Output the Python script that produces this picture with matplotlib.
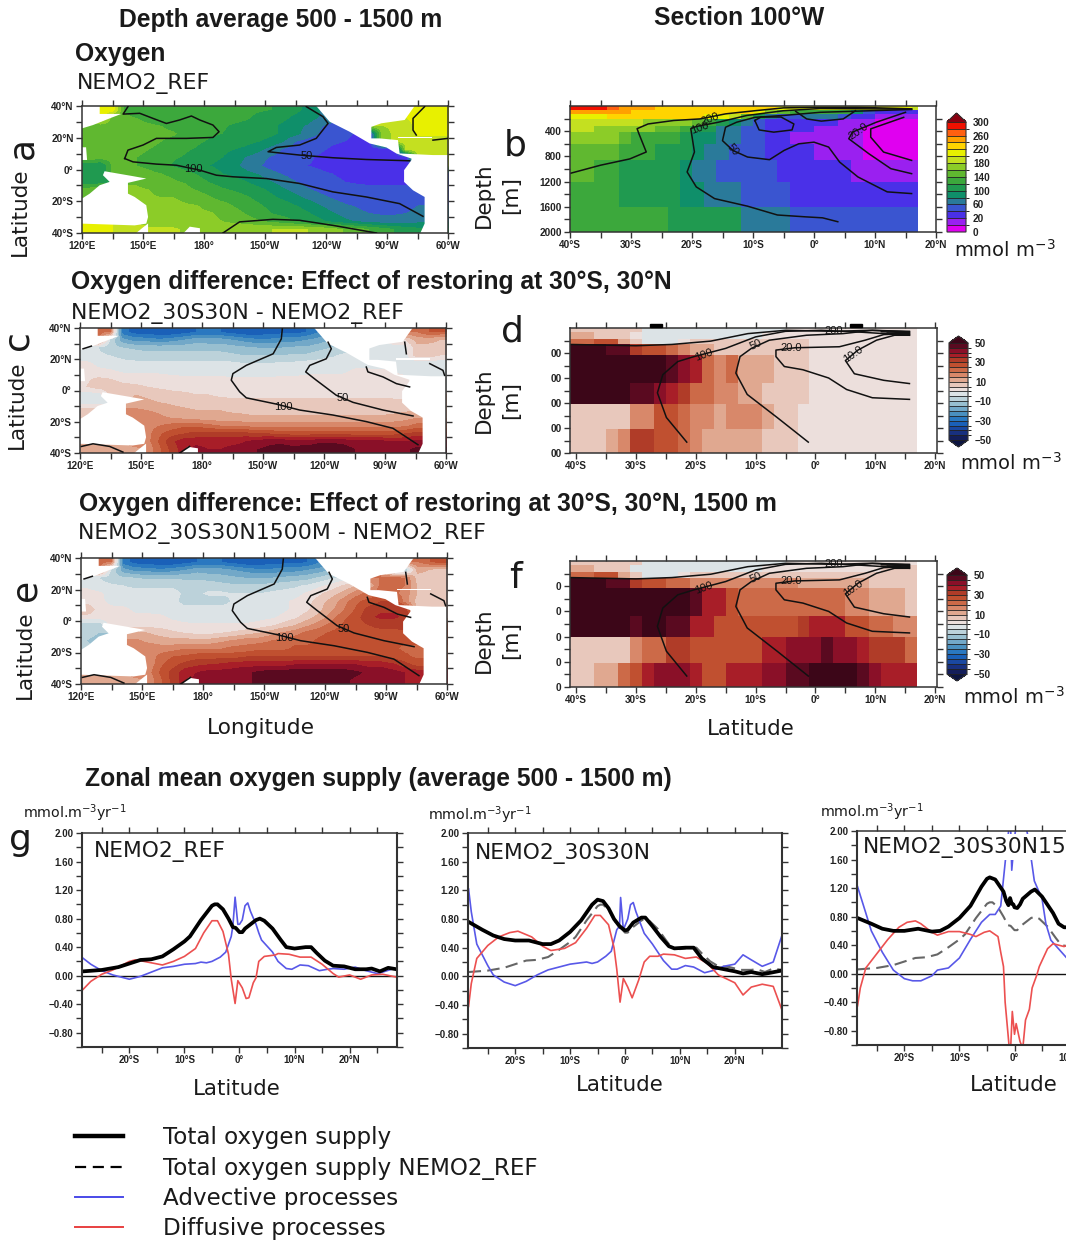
import numpy as np
import matplotlib
matplotlib.use("Agg")
import matplotlib.pyplot as plt
from matplotlib.colors import ListedColormap, BoundaryNorm
from matplotlib.cm import ScalarMappable
from matplotlib.lines import Line2D
from matplotlib.patches import Rectangle

W, H = 1066, 1243
N = np.nan
BOLD = "Liberation Sans"
REG = "DejaVu Sans"

# ---------- colour scales ----------
o2_levels = [0, 10, 20, 40, 60, 80, 100, 120, 140, 160, 180, 200, 220, 240, 260, 280, 300]
o2_colors = ["#e000f0", "#9a20f0", "#4a30e8", "#3a55d0", "#2a7a9a", "#0f8f6a", "#209a50", "#3ca83c",
             "#60b830", "#8ccc28", "#c4e020", "#e8f000", "#ffd400", "#ffa000", "#ff6010", "#f01000"]
o2_over = "#8a0010"
o2_ticks = [0, 20, 60, 100, 140, 180, 220, 260, 300]
diff_levels = list(range(-50, 55, 5))
diff_colors = ["#141e5a", "#18307f", "#1a48a0", "#1a60b8", "#2a78c0", "#4a90c0", "#72a8c8", "#98bfd0",
               "#bcd2da", "#dce3e6", "#ecdfdc", "#e8c8bc", "#e0a890", "#d8886a", "#cc6a48", "#c05030",
               "#b03c28", "#a81e28", "#8a1028", "#5a0a20"]
diff_under, diff_over = "#0c1440", "#3c0618"

# ---------- panel a: oxygen, 500-1500 m mean (6 deg x 5 deg cells, N to S) ----------
map_lon_edges = [120, 300]
map_lat_edges = [-40, 40]
oxygen_map = [
 [N,215,215,138,125,128,128,125,125,125,125,125,125,125,122,120,108,105,95,80,N,N,N,N,N,N,N,205,205,205],
 [N,N,150,145,140,130,125,125,125,125,125,125,125,122,115,112,105,95,88,78,68,N,N,N,N,N,200,205,205,205],
 [150,150,150,150,150,145,140,135,130,125,125,122,118,115,110,105,95,85,78,62,55,50,N,N,180,185,195,205,205,205],
 [145,150,150,150,150,150,145,142,135,128,122,120,115,115,110,105,95,85,72,58,50,45,38,N,165,185,190,205,205,205],
 [155,152,152,150,148,145,140,135,128,122,118,115,110,105,100,92,80,60,52,45,42,40,35,32,N,N,190,190,190,190],
 [155,150,150,148,145,140,135,128,122,118,112,105,100,95,85,72,58,50,45,42,38,35,32,30,25,N,190,190,190,190],
 [155,150,148,145,140,135,128,122,118,112,105,100,90,78,68,58,50,45,42,38,35,32,30,30,28,28,25,N,N,N],
 [105,100,145,145,140,135,125,118,112,105,100,95,85,72,62,52,45,42,40,38,35,35,32,32,32,32,32,N,N,N],
 [100,100,N,N,150,145,140,135,125,118,108,100,95,85,78,66,58,50,45,42,40,38,38,35,35,35,N,N,N,N],
 [105,110,N,N,158,152,148,142,138,128,118,112,108,100,90,80,70,60,52,46,42,40,38,38,38,38,38,N,N,N],
 [150,150,N,N,162,160,155,150,145,138,130,122,118,112,105,95,82,72,62,54,48,45,45,42,42,42,42,50,N,N],
 [150,N,N,N,162,162,160,160,155,150,142,132,128,122,115,105,95,85,75,66,58,52,48,45,45,48,50,55,N,N],
 [N,N,N,N,N,165,165,165,162,160,152,148,138,128,122,115,110,100,92,80,70,62,58,52,50,50,52,60,N,N],
 [N,N,N,N,N,172,172,170,168,165,162,155,148,138,128,120,115,110,102,92,82,72,65,60,58,58,60,68,N,N],
 [N,N,N,N,N,172,175,172,172,170,165,160,155,150,142,135,128,120,112,105,95,85,78,72,68,68,70,75,N,N],
 [215,205,200,195,195,182,182,182,178,178,172,172,175,178,178,180,182,182,180,175,168,158,150,140,130,120,110,105,N,N],
]

# ---------- panel c: NEMO2_30S30N - NEMO2_REF ----------
diff_map_30 = [
 [N,22,20,-28,-32,-33,-34,-34,-32,-30,-30,-30,-32,-34,-34,-32,-32,-32,-30,-25,N,N,N,N,N,N,N,20,25,25],
 [N,N,-6,-18,-22,-22,-24,-22,-20,-17,-18,-18,-20,-22,-24,-24,-22,-22,-20,-18,-15,N,N,N,N,N,5,12,12,10],
 [-3,-5,-8,-10,-11,-12,-12,-12,-12,-12,-12,-12,-13,-14,-15,-15,-15,-14,-14,-12,-10,-8,N,N,-3,-3,-3,8,8,8],
 [-2,-4,-5,-6,-7,-8,-8,-8,-8,-8,-8,-8,-9,-10,-10,-10,-10,-9,-9,-7,-6,-4,-3,N,-3,-3,N,8,8,5],
 [1,-1,-3,-4,-4,-4,-4,-4,-4,-4,-4,-4,-4,-5,-5,-5,-4,-4,-3,-3,-2,-2,-2,-2,N,N,-3,-3,-3,-3],
 [2,1,1,-1,-1,-1,-1,-2,-2,-2,-2,-2,-3,-3,-3,-3,-2,-2,-2,-1,-1,-1,1,1,1,N,N,-3,-3,-3],
 [4,6,5,4,3,3,2,2,1,1,1,1,1,1,1,1,1,1,2,2,2,2,2,2,3,3,3,N,N,N],
 [5,8,7,6,6,5,4,3,3,3,3,3,3,3,3,3,3,3,3,3,3,3,3,3,3,3,3,N,N,N],
 [-2,-2,N,N,10,9,8,7,6,5,5,4,4,4,4,4,4,4,4,4,4,4,4,4,4,4,N,N,N,N],
 [-2,-2,N,N,12,11,10,9,8,8,7,7,6,6,6,6,6,6,6,6,6,6,6,6,6,6,6,N,N,N],
 [8,8,N,N,16,15,14,12,11,10,10,10,9,9,8,8,8,8,8,8,8,8,8,8,8,8,9,10,N,N],
 [5,N,N,N,18,18,16,15,14,13,12,12,12,11,11,11,11,11,11,11,11,11,11,11,11,12,13,15,N,N],
 [N,N,N,N,N,18,20,22,24,24,22,20,20,19,18,18,18,18,18,18,18,18,18,18,18,18,19,22,N,N],
 [N,N,N,N,N,18,24,28,30,32,32,32,32,32,30,30,28,28,28,28,28,28,28,28,28,28,30,32,N,N],
 [N,N,N,N,N,18,26,34,38,38,38,38,38,40,42,44,44,42,42,44,44,44,42,42,42,40,40,42,N,N],
 [14,12,14,14,N,16,24,32,N,42,40,40,42,42,45,46,47,47,48,48,48,47,45,44,44,44,44,46,N,N],
]

# ---------- panel e: NEMO2_30S30N1500M - NEMO2_REF ----------
diff_map_1500 = [
 [N,22,20,-28,-32,-33,-34,-34,-32,-30,-30,-30,-32,-34,-34,-32,-32,-32,-30,-25,N,N,N,N,N,N,N,20,25,28],
 [N,N,-6,-18,-22,-22,-24,-22,-20,-17,-18,-18,-20,-22,-24,-24,-22,-22,-20,-18,-14,N,N,N,N,N,-10,12,10,8],
 [-2,-5,-8,-9,-10,-11,-11,-11,-11,-11,-12,-13,-14,-15,-15,-15,-14,-13,-12,-9,-6,-3,N,N,20,22,20,8,8,6],
 [-1,-3,-4,-5,-6,-6,-6,-6,-7,-7,-7,-8,-9,-9,-9,-8,-7,-6,-4,-1,2,6,10,N,22,22,N,10,8,6],
 [2,1,-2,-3,-3,-3,-3,-3,-6,-6,-4,-4,-5,-5,-5,-4,-3,-2,1,4,8,12,18,22,N,N,18,10,8,6],
 [3,1,-1,-2,-2,-2,-3,-3,-7,-7,-7,-7,-4,-3,-3,-2,-1,1,3,8,12,18,24,27,30,N,N,8,8,8],
 [10,2,1,1,-1,-1,-2,-2,-3,-3,-3,-3,-3,-3,-3,-2,-1,1,4,9,14,20,26,32,34,34,34,N,N,N],
 [3,3,3,2,1,1,1,-1,-2,-3,-3,-3,-3,-3,-2,-1,1,4,8,12,18,24,28,34,36,36,34,N,N,N],
 [-8,-8,N,N,2,3,3,2,1,1,1,1,1,1,2,4,7,10,14,18,22,26,28,30,32,32,N,N,N,N],
 [-8,-10,N,N,12,10,8,6,5,4,4,5,6,8,10,13,16,18,22,24,26,28,28,28,28,28,28,N,N,N],
 [-10,-12,N,N,16,14,13,12,12,12,12,14,16,18,18,20,22,24,24,26,26,26,26,26,26,26,26,26,N,N],
 [-8,N,N,N,18,18,17,18,20,20,20,20,22,22,24,24,24,26,26,26,26,26,26,26,26,26,24,24,N,N],
 [N,N,N,N,N,16,22,25,26,28,28,28,28,30,30,30,30,30,30,30,30,30,30,30,30,28,26,24,N,N],
 [N,N,N,N,N,16,24,28,32,34,35,36,38,38,38,38,38,40,40,40,40,40,40,38,38,36,32,28,N,N],
 [N,N,N,N,N,18,26,32,38,40,42,42,42,44,46,48,48,48,48,48,48,48,46,44,44,42,40,38,N,N],
 [14,12,14,14,N,16,24,32,N,42,42,42,44,44,46,46,48,48,48,48,48,46,44,44,42,42,40,38,N,N],
]

# ---------- land outlines (lon, lat) ----------
land_polygons = [
 ([120,128.7,128.7,139.3,133.6,125.4,120], [40,40,35,35,32.2,28,25.9]),
 ([120,122,122.5,120], [14,14,6,6]),
 ([131.1,145.1,151.6,142.6,142.6,145.9,151.6,152.5,151.6,145.9,120,120,123.8,128.7,133.6,130.3],
  [-1.1,-4.2,-5.7,-8.4,-15.2,-17.3,-22.5,-29.9,-34.1,-35.2,-34.1,-18.3,-15.2,-9.9,-7.8,-3.6]),
 ([146.7,149.2,152.5,152.5], [-40,-37.3,-34,-40]),
 ([170,173,178,178], [-40,-36,-37,-40]),
 ([235.2,241.8,251.6,261.5,269.7,274.6,282,282,278.4,278.4,282.8,288.5,288.5,286.4,300,300,292.6,276.2,275.4,266.4,262.3,262.3,267.2,278.7,283.6],
  [40,30.1,23.8,16.4,13.9,10.1,6.9,5.9,-0.4,-7.8,-13.1,-17.3,-34.1,-40,-40,9.1,9.1,10.1,18.5,19.6,19.6,26.9,29.1,31.2,40]),
 ([275.4,292,292,275.4], [20.6,20.6,19.6,19.6]),
]

# ---------- panel b: section at 100W ----------
sec_b_lat_edges = list(range(-40, 18, 2)) + [17]
sec_b_depth_edges = [0, 60, 130, 200, 310, 415, 600, 860, 1200, 1600, 2000]
oxygen_section = [
 [290,290,280,270,250,250,240,230,230,230,230,230,225,225,225,225,225,215,215,215,215,215,215,215,215,215,215,215,195],
 [250,250,240,240,240,230,230,230,230,230,225,225,225,225,225,205,170,150,130,120,130,130,120,90,50,30,30,30,30],
 [205,205,215,225,225,230,225,225,225,225,225,215,205,190,150,100,70,50,45,60,70,70,50,30,25,15,15,15,15],
 [190,190,190,185,185,180,175,170,170,165,150,130,110,80,60,50,35,30,30,25,20,20,18,15,15,5,5,5,5],
 [190,190,170,170,165,165,165,150,150,130,110,100,70,60,50,45,35,30,30,25,18,15,15,15,5,5,5,5,5],
 [170,170,165,160,150,130,130,130,130,110,90,85,70,70,50,45,35,25,15,15,15,15,15,15,5,5,5,5,5],
 [150,150,150,150,130,130,130,110,110,100,90,70,60,50,45,45,30,30,30,30,18,15,15,15,5,5,5,5,5],
 [150,150,130,130,115,115,115,115,100,90,75,70,50,50,45,45,45,35,30,30,30,30,30,15,15,15,15,15,15],
 [135,135,135,135,115,115,110,110,105,95,90,75,65,65,50,50,50,50,35,30,30,30,30,30,30,30,30,30,30],
 [135,135,135,135,135,125,125,125,115,100,100,100,100,100,75,75,75,75,50,50,50,50,50,50,50,50,50,50,50],
]

# ---------- panels d, f: section differences ----------
sec_d_lat_edges = list(range(-41, 17, 2)) + [17]
sec_d_depth_edges = [0, 70, 170, 263, 430, 880, 1210, 1616, 2000]
diff_section_30 = [
 [8]*6 + [-3]*12 + [3]*11,
 [12,12,8,8,8,4] + [-3]*10 + [3]*13,
 [22,22,25,25,12,5,-3,-3,-3,3,5,5,5,5,5,5,5,5,5,5,3] + [3]*8,
 [52,52,52,48,45,32,28,27,22,18,14,10,8,8,8,8,8,8,8,6,4] + [3]*8,
 [52]*8 + [48,42,37,24,17,22,13,11,11,8,8,8,3] + [3]*8,
 [52]*5 + [48,47,40,37,30,24,22,15,15,13,13,8,8,8,8,3] + [3]*8,
 [8]*5 + [17,18,27,27,22,18,16,12,15,15,15,12,8,8,3,3] + [3]*8,
 [8,8,5,14,18,32,32,27,27,22,18,14,14,12,12,12,6,6,6,3,3] + [3]*8,
]
diff_section_1500 = [
 [8]*6 + [-3]*12 + [3]*11,
 [12,12,8,8,8,-3] + [-3]*10 + [3]*10 + [5,5,5],
 [22,22,25,25,12,5,-3,-3,-3,3,5,5,8,8,8,8,8,8,8,8,5,5,5,5,5,5,8,5,5],
 [52,52,52,48,45,32,28,27,22,24,18,16,18,18,18,18,18,18,18,14,14,12,12,12,10,8,8,5,5],
 [52]*10 + [47,37,37,28,24,24,24,24,24,24,24,24,24,16,16,14,12,10,8],
 [52]*5 + [48,52,52,47,47,38,38,28,28,28,28,28,28,28,32,37,37,37,28,28,24,24,18,15],
 [8]*5 + [18,24,22,30,30,28,28,28,28,28,28,37,37,42,42,42,47,42,42,37,30,30,30,24],
 [8,8,12,14,20,28,37,42,42,42,37,28,28,37,37,37,42,42,45,48,52,52,52,52,47,42,37,37,37],
]

# ---------- contour lines (lon, lat) on the maps ----------
a_lines = [
 ([141,142.6,150,156.6,171.3,184.4,187.4,184.4,177.9,173.8,168,161.5,154.9,148.4,140.2,142.6],
  [6.9,12.2,15.4,19.6,19.6,20.2,23.8,28,31.2,33.7,31.2,29,32.2,35.4,34.9,39.6]),
 ([141,145.1,156.6,166.4,177.9,186.1,194.3,210.7,227,243.4,259.8,276.2,287.7],
  [6.9,4.8,3.4,2.7,-0.4,-3.6,-4.6,-5.7,-8.8,-14.1,-17.3,-21.5,-29.5]),
 ([230.3,238.5,241,235.2,227,215.6,211.5,227,243.4,259.8,281.1],
  [39.6,33.3,29,19.6,15.4,13.9,11.2,9.1,7.4,6.3,5.5]),
 ([189.3,197.5,213.9,227,243.4,264.8], [-40,-33,-31.4,-32,-35.2,-40]),
 ([288.5,282.8,282.8,284.4], [39.6,32.2,24.8,21.7]),
 ([292.6,300], [18.5,19.6]),
]
c_lines = [
 ([219.5,219,215,201.8,195.2,194.4,198.5,201.8,216.6,228,244.4,260.8,273.9,286.2],
  [39.4,33,23.5,16.1,10.8,6.6,-0.8,-4.7,-8.7,-12.5,-15.7,-19.9,-24.2,-34.7]),
 ([242,243.6,241.1,233,231,236.2,246,254.3,269,283.8],
  [30.9,26.7,20.3,16.1,11.9,6.6,-3,-7.6,-12.5,-16.3]),
 ([260.8,261.6,269,275.6,282.1], [15,11.9,8.7,4.4,2.3]),
 ([292,298.5,299.3], [17.2,12.9,9.7]),
 ([279.7,280.5], [30.9,23.5]),
 ([121.5,125.6], [26.7,28.4]),
 ([120.7,126.4,134.6,141.1], [-35.8,-34.1,-35.8,-39.4]),
 ([169,173.9], [-40,-35.8]),
]

# ---------- contour lines (lat, depth) on the sections ----------
b_lines = [
 ([-40,-35,-30.2,-27.5,-28.7,-29,-27.2,-23,-18.7,-14.5,-9.7,-5,1,7,16],
  [1070,940,840,730,440,360,285,230,205,125,75,30,20,20,45]),
 ([3.9,1.4,-1.3,-6,-10.9,-16.3,-19.3,-20.8,-19.6,-20.2,-19.3,-15.7,-11,-5,1,16],
  [1837,1775,1760,1730,1590,1470,1284,1047,730,360,325,258,150,75,40,50]),
 ([16,12,7.2,4.2,2.4,0,-2.5,-4.9,-7.3,-10.9,-13.3,-15,-14.5,-12.7,-9.7,-5,1,16],
  [1390,1363,1126,890,652,574,600,705,852,810,705,550,337,258,180,150,100,55]),
 ([-9.7,-8.7,-5.4,-3.3,-3.6,-6.6,-9,-9.7], [230,175,175,285,380,415,380,230]),
 ([-3,-1.2,1.2,4.8,6.8], [85,205,240,205,75]),
 ([16,12.6,9,5.7,6.3,10.2,15], [1074,995,758,520,415,258,100]),
 ([16,11.4,9.3,9.3,14.7], [863,731,495,363,180]),
]
d_lines = [
 ([-21.5,-24.9,-26.4,-25.5,-23,-20.3,-15,-10,-5,1,7,15.7],
  [1826,1432,1037,747,537,458,326,142,53,37,63,116]),
 ([-41,-30,-24,-17.5,-11.3,-5,3.4,8.9,15.7], [263,284,263,210,90,37,53,37,53]),
 ([-1.2,-6.4,-11.4,-13.3,-12.6,-10.7,-7.7,-1.5,4.6,9.5,15.7],
  [1826,1432,1063,721,458,326,195,116,90,37,63]),
 ([15.7,9.5,5.2,2.2,-2.1,-5.2,-6.6,-6.6,-3.4,4,8.3,11.4,15.7],
  [1142,1116,984,800,668,616,458,353,316,300,195,105,90]),
 ([15.7,11.4,6.5,5,7.1,10.2,13.2,15.7], [889,837,732,521,353,195,116,116]),
 ([11,15.7], [60,75]),
 ([12,15.7], [80,100]),
]

# ---------- panel g: zonal mean supply ----------
ref_total_lat = [-28.5,-25,-22,-20,-18,-16,-14,-12,-10,-9,-7,-5,-4.5,-4,-3,-2,-1.2,-0.7,0,0.5,1,2,3,3.7,4.5,6,7.5,8.5,10,12,13,14,15.5,17,19,21,23,24,25.5,27,28.5]
ref_total = [.06,.08,.12,.17,.22,.23,.27,.37,.48,.55,.78,.98,1.0,1.0,.93,.80,.68,.67,.61,.61,.66,.72,.78,.80,.77,.66,.5,.40,.38,.40,.40,.32,.21,.14,.13,.09,.09,.10,.06,.11,.09]
ref_adv_lat = [-28.5,-27,-25,-23,-21,-20,-18,-16,-14,-12,-10,-8,-7,-6,-5,-3.5,-2.5,-1.5,-1.2,-0.8,-0.3,0,.5,1,1.5,2,3,3.5,4,6,7,8.5,9.5,11,12.5,14.5,16,17,19,21,22.5,24,25,26,28]
ref_adv = [.25,.16,.07,.01,-.03,-.05,-.01,.05,.11,.13,.16,.17,.19,.18,.20,.26,.33,.55,.7,1.10,.72,.72,.78,.98,1.02,.9,.72,.6,.5,.33,.2,.10,.09,.15,.14,.07,.09,.10,.09,.12,.08,.05,.03,.05,.1]
ref_dif_lat = [-28.5,-27,-25,-23,-20,-19,-18,-16,-14,-12,-10,-8,-6.5,-5,-4,-3,-2,-1.5,-0.8,-0.3,0.5,1.2,1.7,2.5,3,3.5,4.5,6.5,7,9,11,13,15,17,18,20,22,24,26,28.5]
ref_dif = [-.2,-.08,.02,.08,.2,.22,.21,.18,.15,.20,.27,.38,.60,.77,.77,.62,.3,-.05,-.39,-.07,-.17,-.32,-.31,-.1,-.03,.2,.27,.29,.31,.30,.26,.26,.16,.03,-.02,.01,-.05,.01,.02,-.02]

r30_total_lat = [-28.5,-26,-24,-22,-20,-17.5,-15,-13.5,-12,-10,-8,-6,-5,-4,-3,-2,-1,0,.5,1.5,3,3.7,5,6.5,8,9,11,12.5,14,16,18,20,21.5,23,25,26.5,28.5]
r30_total = [.76,.65,.57,.52,.50,.50,.45,.45,.50,.62,.78,1.0,1.07,1.05,.95,.80,.70,.64,.65,.75,.82,.82,.70,.55,.42,.39,.40,.40,.25,.13,.10,.07,.04,.06,.03,.05,.08]
r30_adv_lat = [-28.5,-28,-27,-25,-24,-22,-20,-18,-16,-14,-12,-10,-8,-7,-6,-5,-3.5,-2.5,-1.5,-1,-.8,-.3,.5,1,1.5,2,3,3.5,5,7,8.5,9.5,11,12.5,14.5,16,18,20,21.5,23,25,27,28.5]
r30_adv = [1.22,.9,.45,.15,.02,-.08,-.13,-.07,.02,.09,.13,.17,.19,.20,.18,.20,.28,.35,.65,.7,1.1,.65,.8,1.0,1.03,.9,.7,.6,.45,.22,.1,.1,.15,.13,.05,.08,.14,.17,.30,.23,.14,.2,.55]
r30_dif_lat = [-28.5,-28,-27,-25,-23,-21,-19.5,-17,-15,-13.5,-11,-9,-7,-5.5,-4.5,-3,-2,-1.5,-.9,-.3,.5,1.3,2.5,3.5,4.5,6,7,9,11,13,15,17,20,21.5,23,25,27,28.5]
r30_dif = [-.42,-.1,.25,.43,.55,.61,.63,.55,.42,.36,.39,.47,.67,.85,.85,.72,.4,.1,-.36,-.03,-.15,-.3,-.05,.2,.28,.28,.31,.30,.25,.27,.18,.02,-.09,-.26,-.15,-.11,-.14,-.45]

r15_total_lat = [-28.5,-26,-24,-22,-20,-17.5,-15,-13.5,-12,-10,-8,-6,-5,-4.5,-3.5,-2,-1.5,-1.1,-.8,-.5,-.2,0,.5,1,1.5,3,3.7,5,7,8,9,10.5]
r15_total = [.78,.70,.63,.60,.60,.63,.59,.60,.66,.78,.95,1.22,1.33,1.35,1.32,1.15,1.02,.96,1.06,.98,.97,.93,.92,.97,1.05,1.15,1.18,1.08,.85,.70,.65,.65]
r15_adv_lat = [-28.5,-27,-26,-24,-22,-20,-18.5,-17,-15,-14,-12,-10,-8,-6,-4.5,-3.5,-2.5,-1.6,-1,-.7,-.5,0,.5,1.5,2.5,3,3.6,5,5.7,6.6,9.6]
r15_adv = [1.22,.85,.6,.3,.05,-.07,-.1,-.1,-.03,.05,.08,.22,.48,.72,.83,.83,.95,1.63,2.05,2.05,1.45,1.9,2.2,2.3,1.9,1.63,1.3,1.05,.7,.47,.21]
r15_dif_lat = [-28.5,-28,-27,-25,-23,-21,-19.5,-18,-17,-15,-14,-12,-10,-8,-7,-5.5,-4.5,-3,-2.5,-2,-1.7,-1,-.7,-.4,0,.3,1,1.5,2,2.7,3.2,4,4.5,6,7,9,9.6]
r15_dif = [-.45,-.2,.08,.28,.48,.65,.72,.74,.70,.58,.54,.59,.59,.55,.52,.58,.6,.52,.3,.1,-.4,-1.0,-1.05,-.53,-.85,-.70,-.95,-1.05,-.65,-.5,-.2,-.03,.1,.35,.42,.38,.40]

map_xt = [120, 150, 180, 210, 240, 270, 300]
map_xl = ["120°E", "150°E", "180°", "150°W", "120°W", "90°W", "60°W"]
map_yt = [-40, -20, 0, 20, 40]
map_yl = ["40°S", "20°S", "0°", "20°N", "40°N"]
sec_xt = [-40, -30, -20, -10, 0, 10, 20]
sec_xl = ["40°S", "30°S", "20°S", "10°S", "0°", "10°N", "20°N"]
sec_yt = [400, 800, 1200, 1600, 2000]
g_yt = [-0.8, -0.4, 0, 0.4, 0.8, 1.2, 1.6, 2.0]
g_xt = [-20, -10, 0, 10, 20]
g_xl = ["20°S", "10°S", "0°", "10°N", "20°N"]

# ---------- helpers ----------
fig = plt.figure(figsize=(W / 100, H / 100), dpi=100, facecolor="white")

def axpx(l, r, t, b):
    return fig.add_axes([l / W, 1 - b / H, (r - l) / W, (b - t) / H])

def txt(x, y, s, size=15, family=REG, weight="normal", rot=0, ha="left", **kw):
    return fig.text(x / W, 1 - y / H, s, fontsize=size, family=family, weight=weight,
                    rotation=rot, ha=ha, va="center", color="#1a1a1a", **kw)

def frame(ax, xt, xl, yt, yl, xminor, yminor, size=7.2):
    ax.set_xticks(xt, xl)
    ax.set_yticks(yt, yl)
    ax.set_xticks(xminor, minor=True)
    ax.set_yticks(yminor, minor=True)
    ax.tick_params(which="both", direction="out", length=4, width=1, color="#333333",
                   top=True, right=True, labelsize=size, labelcolor="#222222", pad=2)
    for lab in ax.get_xticklabels() + ax.get_yticklabels():
        lab.set_family(BOLD)
        lab.set_weight("bold")
    for sp in ax.spines.values():
        sp.set_linewidth(1.1)
        sp.set_color("#333333")

def cmap_of(colors, under=None, over=None):
    c = ListedColormap(colors)
    return c.with_extremes(under=under or colors[0], over=over or colors[-1], bad=(1, 1, 1, 0))

o2_cmap = cmap_of(o2_colors, over=o2_over)
o2_norm = BoundaryNorm(o2_levels, len(o2_colors))
diff_cmap = cmap_of(diff_colors, diff_under, diff_over)
diff_norm = BoundaryNorm(diff_levels, len(diff_colors))

def under_land(field):
    """Give land cells the value of the nearest ocean cell; land is painted over afterwards."""
    a = np.array(field, float)
    ok = ~np.isnan(a)
    jj, ii = np.nonzero(ok)
    out = a.copy()
    for j, i in zip(*np.nonzero(~ok)):
        k = np.argmin((jj - j) ** 2 + (ii - i) ** 2)
        out[j, i] = a[jj[k], ii[k]]
    return out

def map_panel(l, r, t, b, field, cmap, norm, lines, labels):
    ax = axpx(l, r, t, b)
    ax.imshow(under_land(field), extent=(map_lon_edges[0], map_lon_edges[1], map_lat_edges[0], map_lat_edges[1]),
              origin="upper", aspect="auto", cmap=cmap, norm=norm,
              interpolation="bilinear", interpolation_stage="data")
    for x, y in land_polygons:
        ax.fill(x, y, color="white", lw=0, zorder=2)
    for x, y in lines:
        ax.plot(x, y, color="#111111", lw=1.1, zorder=3)
    for x, y, s in labels:
        ax.text(x, y, s, fontsize=8, family=BOLD, ha="center", va="center", color="#111111", zorder=4)
    ax.set_xlim(120, 300)
    ax.set_ylim(-40, 40)
    frame(ax, map_xt, map_xl, map_yt, map_yl, np.arange(135, 300, 30), np.arange(-30, 40, 20))
    return ax

def sec_panel(l, r, t, b, xlim, latE, depE, field, cmap, norm, lines, labels, ylab):
    ax = axpx(l, r, t, b)
    ax.pcolormesh(latE, depE, np.array(field, float), cmap=cmap, norm=norm)
    for x, y in lines:
        ax.plot(x, y, color="#111111", lw=1.1)
    for x, y, s, rot in labels:
        ax.text(x, y, s, fontsize=8, family=BOLD, ha="center", va="center", rotation=rot, color="#111111")
    ax.set_xlim(*xlim)
    ax.set_ylim(2000, 0)
    frame(ax, sec_xt, sec_xl, sec_yt, ylab, np.arange(-35, 20, 10), np.arange(200, 2000, 400))
    return ax

def cbar(l, r, t, b, cmap, norm, ticks, ext, ef):
    cax = axpx(l, r, t, b)
    cb = fig.colorbar(ScalarMappable(norm=norm, cmap=cmap), cax=cax, extend=ext, extendfrac=ef,
                      ticks=ticks, drawedges=True)
    cb.ax.tick_params(length=0, labelsize=7.2, pad=5, labelcolor="#222222")
    for lab in cb.ax.get_yticklabels():
        lab.set_family(BOLD)
        lab.set_weight("bold")
    cb.dividers.set_color("#222222")
    cb.dividers.set_linewidth(0.6)
    cb.outline.set_edgecolor("#333333")
    cb.outline.set_linewidth(0.8)
    return cb

# ---------- maps ----------
map_panel(82, 448, 106, 233, oxygen_map, o2_cmap, o2_norm, a_lines,
          [(175, 0.2, "100"), (230.5, 8.5, "50")])
map_panel(80, 446, 328, 453, diff_map_30, diff_cmap, diff_norm, c_lines,
          [(220, -10.5, "100"), (249, -4.8, "50")])
map_panel(81, 447, 558, 684, diff_map_1500, diff_cmap, diff_norm, c_lines,
          [(220, -10.5, "100"), (249, -4.8, "50")])

# ---------- sections ----------
sec_panel(570, 936, 106, 232, (-40, 20), sec_b_lat_edges, sec_b_depth_edges, oxygen_section, o2_cmap, o2_norm,
          b_lines, [(-17, 205, "200", 20), (-18.7, 350, "100", 20), (-13.3, 700, "50", -50), (7.3, 400, "20.0", 35)],
          ["400", "800", "1200", "1600", "2000"])
lab_d = [(3.1, 53, "200", 0), (-18.6, 430, "100", 20), (-10, 270, "50", 25), (-4, 316, "20.0", 0), (6.3, 430, "10.0", 35)]
ax_d = sec_panel(570, 937, 328, 453, (-41, 20.3), sec_d_lat_edges, sec_d_depth_edges, diff_section_30,
                 diff_cmap, diff_norm, d_lines, lab_d, ["00"] * 5)
ax_f = sec_panel(570, 937, 561, 687, (-41, 20.3), sec_d_lat_edges, sec_d_depth_edges, diff_section_1500,
                 diff_cmap, diff_norm, d_lines, lab_d, ["0"] * 5)
fig.add_artist(Rectangle((650 / W, 1 - 327 / H), 12 / W, 3 / H, color="black"))
fig.add_artist(Rectangle((850 / W, 1 - 327 / H), 12 / W, 3 / H, color="black"))

# ---------- colour bars ----------
cbar(947, 966, 113, 232, o2_cmap, o2_norm, o2_ticks, "max", 0.08)
diff_t = [-50, -30, -10, 10, 30, 50]
cbar(949, 968, 336, 447, diff_cmap, diff_norm, diff_t, "both", 0.07)
cbar(947, 967, 568, 681, diff_cmap, diff_norm, diff_t, "both", 0.07)

# ---------- supply panels ----------
def g_panel(l, r, t, b, adv, dif, tot, dashed, label, lx, ly, box=False):
    ax = axpx(l, r, t, b)
    ax.axhline(0, color="#111111", lw=1)
    if dashed:
        ax.plot(ref_total_lat, ref_total, color="#666666", lw=1.5, dashes=(6, 3))
    ax.plot(adv[0], adv[1], color="#5858e8", lw=1.2)
    ax.plot(dif[0], dif[1], color="#ec5050", lw=1.2)
    ax.plot(tot[0], tot[1], color="black", lw=2.7)
    ax.set_xlim(-28.6, 28.6)
    ax.set_ylim(-1, 2)
    frame(ax, g_xt, g_xl, g_yt, ["%.2f" % v if v >= 0 else "\u2212%.2f" % abs(v) for v in g_yt],
          [-25, -15, -5, 5, 15, 25], np.arange(-1, 2, 0.4), size=7)
    for s in ("left", "right", "bottom"):
        ax.spines[s].set_linewidth(1.5)
    t_ = txt(lx, ly, label, size=15.7)
    if box:
        t_.set_bbox(dict(facecolor="white", edgecolor="none", pad=2))
    return ax

g_panel(82, 397, 833, 1047, (ref_adv_lat, ref_adv), (ref_dif_lat, ref_dif), (ref_total_lat, ref_total),
        False, "NEMO2_REF", 94, 852)
g_panel(468, 782, 833, 1048, (r30_adv_lat, r30_adv), (r30_dif_lat, r30_dif), (r30_total_lat, r30_total),
        True, "NEMO2_30S30N", 475, 853)
g_panel(857, 1172, 831, 1045, (r15_adv_lat, r15_adv), (r15_dif_lat, r15_dif), (r15_total_lat, r15_total),
        True, "NEMO2_30S30N15", 863, 847, box=True)

# ---------- text ----------
TS = 17.7
txt(281, 20, "Depth average 500 - 1500 m", size=TS, family=BOLD, weight="bold", ha="center")
txt(739, 18, "Section 100°W", size=TS, family=BOLD, weight="bold", ha="center")
txt(75, 54, "Oxygen", size=TS, family=BOLD, weight="bold")
txt(77, 84, "NEMO2_REF", size=15.8)
txt(71, 282, "Oxygen difference: Effect of restoring at 30°S, 30°N", size=TS, family=BOLD, weight="bold")
txt(71, 314, "NEMO2_30S30N - NEMO2_REF", size=15.8)
txt(79, 504, "Oxygen difference: Effect of restoring at 30°S, 30°N, 1500 m", size=TS, family=BOLD, weight="bold")
txt(78, 534, "NEMO2_30S30N1500M - NEMO2_REF", size=15.8)
txt(85, 779, "Zonal mean oxygen supply (average 500 - 1500 m)", size=TS, family=BOLD, weight="bold")

for x, y, s, r in [(22, 148, "a", 90), (515, 145, "b", 0), (17, 340, "c", 90), (512, 332, "d", 0),
                   (25, 590, "e", 90), (516, 578, "f", 0), (20, 840, "g", 0)]:
    txt(x, y, s, size=26, rot=r, ha="center")

for x, y in [(20, 212), (17, 405), (25, 655)]:
    txt(x, y, "Latitude", size=15.5, rot=90, ha="center")
for y in (195, 400, 640):
    txt(484, y, "Depth", size=15.5, rot=90, ha="center")
    txt(511, y, "[m]", size=15.5, rot=90, ha="center")
for x, y in [(954, 250), (960, 463), (963, 697)]:
    txt(x, y, "mmol m$^{-3}$", size=14)
txt(261, 728, "Longitude", size=15.6, ha="center")
txt(751, 729, "Latitude", size=15.4, ha="center")
for x, y in [(237, 1089), (620, 1085), (1014, 1085)]:
    txt(x, y, "Latitude", size=15.4, ha="center")
for x, y in [(23, 813), (428, 815), (820, 812)]:
    txt(x, y, "mmol.m$^{-3}$yr$^{-1}$", size=10.3)

# ---------- legend ----------
handles = [Line2D([], [], color="black", lw=3.2),
           Line2D([], [], color="black", lw=1.6, dashes=(5, 3)),
           Line2D([], [], color="#4a4ae8", lw=1.4),
           Line2D([], [], color="#e84040", lw=1.4)]
labels = ["Total oxygen supply", "Total oxygen supply NEMO2_REF", "Advective processes", "Diffusive processes"]
leg = fig.legend(handles, labels, loc="upper left", bbox_to_anchor=(66 / W, 1 - 1117 / H), frameon=False,
                 fontsize=16.55, handlelength=2.08, handletextpad=1.73, labelspacing=0.32,
                 borderaxespad=0, borderpad=0.4)
for t in leg.get_texts():
    t.set_color("#1a1a1a")

fig.savefig("out.png", dpi=100, facecolor="white")
